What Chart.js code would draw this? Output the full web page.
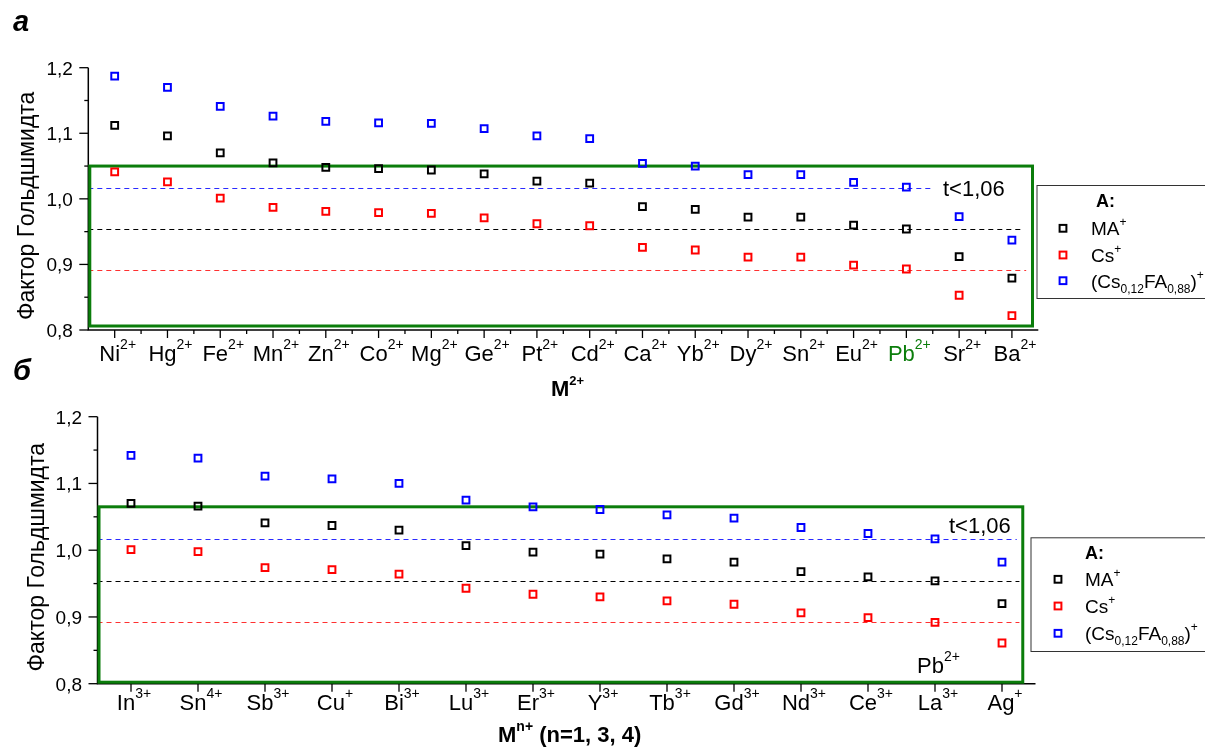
<!DOCTYPE html>
<html>
<head>
<meta charset="utf-8">
<title>Фактор Гольдшмидта</title>
<script src="https://cdn.jsdelivr.net/npm/chart.js@4.4.1/dist/chart.umd.min.js"></script>
<style>
  html, body { margin: 0; padding: 0; background: #fff; }
  #wrap { position: relative; width: 1205px; height: 753px; overflow: hidden; }
  #wrap canvas { position: absolute; left: 0; top: 0; }
</style>
</head>
<body>
<div id="wrap">
  <canvas id="chartA" width="1205" height="753"></canvas>
  <canvas id="chartB" width="1205" height="753"></canvas>
</div>
<script>
// --- panel а: divalent cations M2+ ---
const ionsA = ['Ni', 'Hg', 'Fe', 'Mn', 'Zn', 'Co', 'Mg', 'Ge', 'Pt', 'Cd', 'Ca', 'Yb', 'Dy', 'Sn', 'Eu', 'Pb', 'Sr', 'Ba'];
const chargesA = ['2+', '2+', '2+', '2+', '2+', '2+', '2+', '2+', '2+', '2+', '2+', '2+', '2+', '2+', '2+', '2+', '2+', '2+'];
const maA  = [1.112, 1.096, 1.070, 1.055, 1.048, 1.046, 1.044, 1.038, 1.027, 1.024, 0.988, 0.984, 0.972, 0.972, 0.960, 0.954, 0.912, 0.879];
const csA  = [1.041, 1.026, 1.001, 0.987, 0.981, 0.979, 0.978, 0.971, 0.962, 0.959, 0.926, 0.922, 0.911, 0.911, 0.899, 0.893, 0.853, 0.822];
const mixA = [1.187, 1.170, 1.141, 1.126, 1.118, 1.116, 1.115, 1.107, 1.096, 1.092, 1.054, 1.050, 1.037, 1.037, 1.025, 1.018, 0.973, 0.937];

// --- panel б: cations M(n+), n = 1, 3, 4 ---
const ionsB = ['In', 'Sn', 'Sb', 'Cu', 'Bi', 'Lu', 'Er', 'Y', 'Tb', 'Gd', 'Nd', 'Ce', 'La', 'Ag'];
const chargesB = ['3+', '4+', '3+', '+', '3+', '3+', '3+', '3+', '3+', '3+', '3+', '3+', '3+', '+'];
const maB  = [1.070, 1.066, 1.041, 1.037, 1.030, 1.007, 0.997, 0.994, 0.987, 0.982, 0.968, 0.960, 0.954, 0.920];
const csB  = [1.001, 0.998, 0.974, 0.971, 0.964, 0.943, 0.934, 0.930, 0.924, 0.919, 0.906, 0.899, 0.892, 0.861];
const mixB = [1.142, 1.138, 1.111, 1.107, 1.100, 1.075, 1.065, 1.061, 1.053, 1.048, 1.034, 1.025, 1.017, 0.982];

// t of the lead perovskites (dashed reference lines), order: MA, Cs, mix
const pbLine = [0.954, 0.892, 1.017];
// upper bound of the stable range (green frame)
const tLimitA = 1.05;
const tLimitB = 1.065;

const yTicks = [0.8, 0.9, 1.0, 1.1, 1.2];
const yTickLabels = ['0,8', '0,9', '1,0', '1,1', '1,2'];

const seriesColors = ['#000000', '#ff0000', '#0000ff'];
const lineColors = ['#000000', '#ff3030', '#2a2aff'];
const GREEN = '#0b7d0b';
const FONT = '"Liberation Sans", Arial, Helvetica, sans-serif';

function f(size, weight) { return (weight || '') + ' ' + size + 'px ' + FONT; }

// legend entries: [text, kind] where kind is '' | 'sup' | 'sub'
const seriesLabels = [
  [['MA', ''], ['+', 'sup']],
  [['Cs', ''], ['+', 'sup']],
  [['(Cs', ''], ['0,12', 'sub'], ['FA', ''], ['0,88', 'sub'], [')', ''], ['+', 'sup']]
];

function drawRich(ctx, parts, x, y, align, color) {
  let w = 0;
  parts.forEach(p => { ctx.font = p.font; w += ctx.measureText(p.text).width; });
  let cx = align === 'center' ? x - w / 2 : (align === 'right' ? x - w : x);
  ctx.fillStyle = color || '#000';
  ctx.textAlign = 'left';
  ctx.textBaseline = 'alphabetic';
  parts.forEach(p => {
    ctx.font = p.font;
    ctx.fillText(p.text, cx, y + (p.dy || 0));
    cx += ctx.measureText(p.text).width;
  });
}

function legendParts(label) {
  return label.map(([t, k]) => ({
    text: t,
    font: k ? f(12) : f(19),
    dy: k === 'sup' ? -9 : (k === 'sub' ? 5 : 0)
  }));
}

function panelPlugin(p) {
  return {
    id: 'panel',
    beforeDatasetsDraw(chart) {
      const { ctx, chartArea: a } = chart;
      const x = chart.scales.x, y = chart.scales.y;
      ctx.save();

      // dashed Pb2+ reference lines
      ctx.setLineDash([5, 4]);
      ctx.lineWidth = 1.2;
      pbLine.forEach((v, i) => {
        const yy = Math.round(y.getPixelForValue(v)) + 0.5;
        ctx.strokeStyle = lineColors[i];
        ctx.beginPath();
        ctx.moveTo(a.left, yy);
        ctx.lineTo(x.getPixelForValue(p.lineEnds[i]), yy);
        ctx.stroke();
      });
      ctx.setLineDash([]);

      // axes
      ctx.strokeStyle = '#000';
      ctx.lineWidth = 1.5;
      ctx.beginPath();
      ctx.moveTo(a.left, a.top);
      ctx.lineTo(a.left, a.bottom);
      ctx.lineTo(a.right, a.bottom);
      ctx.stroke();

      // y ticks, labels
      ctx.lineWidth = 1.3;
      yTicks.forEach((v, i) => {
        const yy = y.getPixelForValue(v);
        ctx.beginPath(); ctx.moveTo(a.left - 9, yy); ctx.lineTo(a.left, yy); ctx.stroke();
        if (i < yTicks.length - 1) {
          const ym = y.getPixelForValue((v + yTicks[i + 1]) / 2);
          ctx.beginPath(); ctx.moveTo(a.left - 4, ym); ctx.lineTo(a.left, ym); ctx.stroke();
        }
        ctx.font = f(19);
        ctx.fillStyle = '#000';
        ctx.textAlign = 'right';
        ctx.textBaseline = 'alphabetic';
        ctx.fillText(yTickLabels[i], a.left - p.yLabelGap, yy + 6.8);
      });

      // x ticks, labels
      p.ions.forEach((ion, i) => {
        const xx = x.getPixelForValue(i);
        ctx.beginPath(); ctx.moveTo(xx, a.bottom); ctx.lineTo(xx, a.bottom + 8); ctx.stroke();
        if (p.minorX && i < p.ions.length - 1) {
          const xm = x.getPixelForValue(i + 0.5);
          ctx.beginPath(); ctx.moveTo(xm, a.bottom); ctx.lineTo(xm, a.bottom + 4); ctx.stroke();
        }
        drawRich(ctx, [
          { text: ion, font: f(22) },
          { text: p.charges[i], font: f(14), dy: -12 }
        ], xx + 3, p.labelBase, 'center', ion === p.highlight ? GREEN : '#000');
      });

      // green frame: stable region
      const top = y.getPixelForValue(p.limit);
      const right = x.getPixelForValue(p.frameRight);
      ctx.strokeStyle = GREEN;
      ctx.lineWidth = 3;
      ctx.strokeRect(a.left + 1.5, top, right - a.left - 1.5, a.bottom - p.frameInset - top);
      ctx.restore();
    },
    afterDraw(chart) {
      const { ctx, chartArea: a } = chart;
      ctx.save();

      // axis titles
      ctx.save();
      ctx.translate(p.yTitleX, (a.top + a.bottom) / 2 + 7);
      ctx.rotate(-Math.PI / 2);
      ctx.font = f(23);
      ctx.fillStyle = '#000';
      ctx.textAlign = 'center';
      ctx.textBaseline = 'alphabetic';
      ctx.fillText('Фактор Гольдшмидта', 0, 0);
      ctx.restore();
      drawRich(ctx, p.xTitle, p.xTitleX, p.xTitleBase, 'left');

      // panel letter
      ctx.font = 'italic bold 29px ' + FONT;
      ctx.fillStyle = '#000';
      ctx.textAlign = 'left';
      ctx.fillText(p.letter, 13, p.letterBase);

      // annotations
      ctx.font = f(22);
      ctx.fillText('t<1,06', p.tNote[0], p.tNote[1]);
      if (p.pbNote) {
        drawRich(ctx, [{ text: 'Pb', font: f(22) }, { text: '2+', font: f(14), dy: -12 }], p.pbNote[0], p.pbNote[1], 'left');
      }

      // legend
      const L = p.legend;
      ctx.strokeStyle = '#333';
      ctx.lineWidth = 1;
      ctx.strokeRect(L.x + 0.5, L.y + 0.5, L.w, L.h);
      ctx.font = f(18, 'bold');
      ctx.fillStyle = '#000';
      ctx.fillText('A:', L.titleX, L.titleBase);
      L.rows.forEach((ry, i) => {
        ctx.strokeStyle = seriesColors[i];
        ctx.lineWidth = 2;
        ctx.strokeRect(L.markX - 3.4, ry - 3.4, 6.8, 6.8);
        drawRich(ctx, legendParts(seriesLabels[i]), L.textX, ry + 7, 'left');
      });
      ctx.restore();
    }
  };
}

function makeDatasets(ma, cs, mix) {
  return [ma, cs, mix].map((d, i) => ({
    data: d,
    showLine: false,
    pointStyle: 'rect',
    pointRadius: 4.8,
    pointBorderWidth: 2,
    pointBorderColor: seriesColors[i],
    pointBackgroundColor: 'rgba(0,0,0,0)',
    borderColor: seriesColors[i]
  }));
}

function makeChart(id, ions, charges, series, area, p) {
  return new Chart(document.getElementById(id), {
    type: 'line',
    data: { labels: ions.map((s, i) => s + charges[i]), datasets: makeDatasets(...series) },
    options: {
      responsive: false,
      animation: false,
      devicePixelRatio: 1,
      layout: { padding: { left: area.left, right: 1205 - area.right, top: area.top, bottom: 753 - area.bottom } },
      plugins: { legend: { display: false }, tooltip: { enabled: false } },
      scales: {
        x: { type: 'category', offset: true, display: false },
        y: { min: 0.8, max: 1.2, display: false }
      }
    },
    plugins: [panelPlugin(Object.assign({ ions, charges }, p))]
  });
}

makeChart('chartA', ionsA, chargesA, [maA, csA, mixA],
  { left: 88.3, right: 1038.3, top: 67.7, bottom: 330 },
  {
    limit: tLimitA, frameRight: 17.39, frameInset: 4,
    lineEnds: [17.2, 17.27, 15.5],
    minorX: true, highlight: 'Pb',
    yLabelGap: 15.5, labelBase: 361,
    yTitleX: 34,
    xTitle: [{ text: 'M', font: f(22, 'bold') }, { text: '2+', font: f(13, 'bold'), dy: -11 }],
    xTitleX: 551, xTitleBase: 396,
    letter: 'а', letterBase: 31,
    tNote: [943, 196],
    legend: { x: 1036.5, y: 185, w: 170, h: 113, titleX: 1096, titleBase: 207, markX: 1063, textX: 1091, rows: [228.3, 255, 280.7] }
  });

makeChart('chartB', ionsB, chargesB, [maB, csB, mixB],
  { left: 97.5, right: 1035.5, top: 416.7, bottom: 683.7 },
  {
    limit: tLimitB, frameRight: 13.31, frameInset: 1.5,
    lineEnds: [13.26, 13.26, 13.22],
    minorX: false, highlight: null,
    yLabelGap: 15.5, labelBase: 710,
    yTitleX: 44,
    xTitle: [{ text: 'M', font: f(22, 'bold') }, { text: 'n+', font: f(14, 'bold'), dy: -11 }, { text: ' (n=1, 3, 4)', font: f(22, 'bold') }],
    xTitleX: 498, xTitleBase: 742,
    letter: 'б', letterBase: 380,
    tNote: [949, 533],
    pbNote: [917, 673],
    legend: { x: 1030.5, y: 537.3, w: 176, h: 113.7, titleX: 1085, titleBase: 558.5, markX: 1058, textX: 1085, rows: [579.3, 606, 633.3] }
  });
</script>
</body>
</html>
